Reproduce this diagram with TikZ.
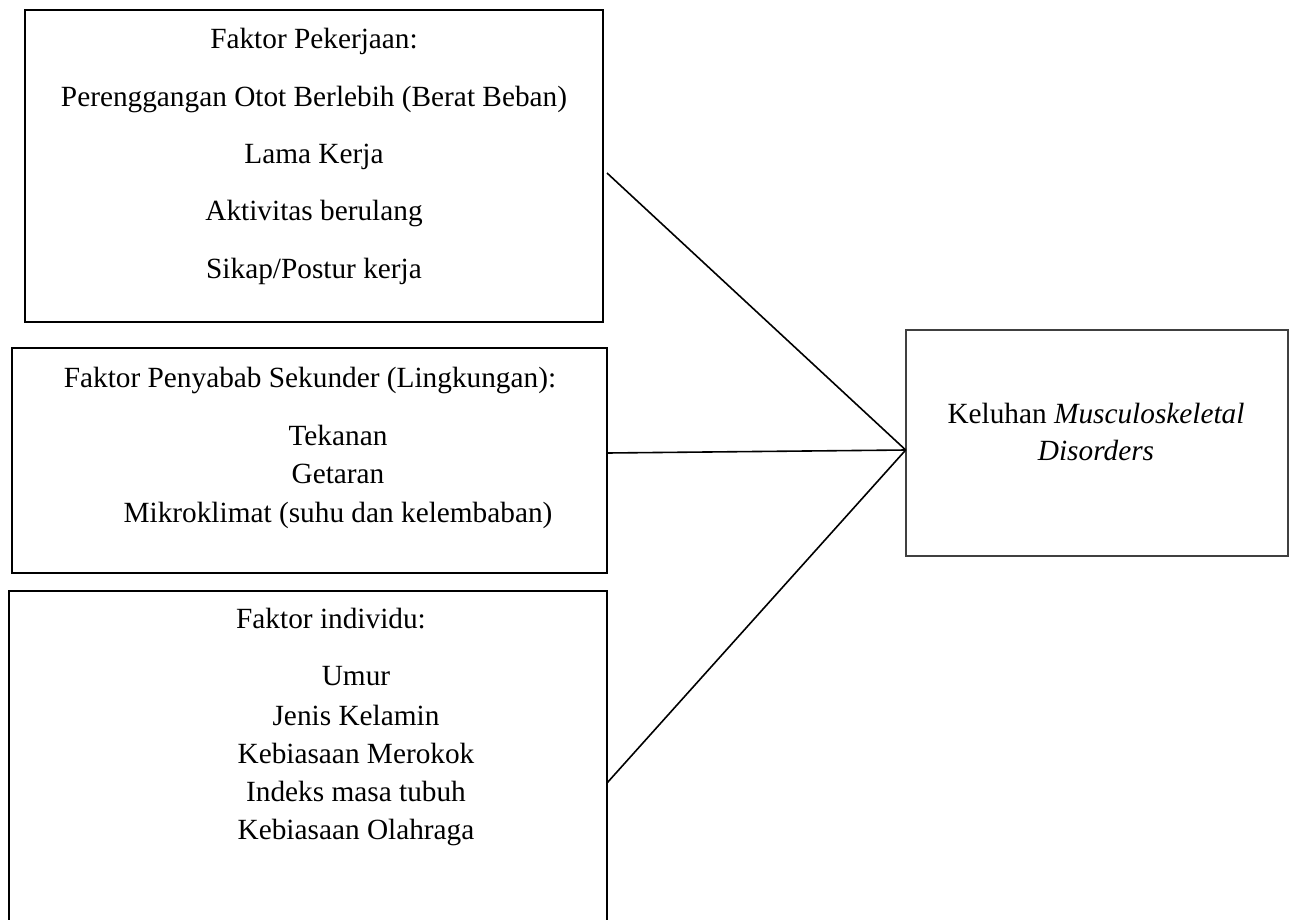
\documentclass[tikz,border=0pt]{standalone}
\usepackage{fontspec}
\setmainfont{Liberation Serif}
\begin{document}
\begin{tikzpicture}[x=1pt,y=-1pt,
  fbox/.style={draw=black,line width=2.2pt,rectangle,inner sep=0pt},
  kbox/.style={draw=black!75,line width=1.1pt,rectangle,inner sep=0pt},
  txt/.style={anchor=base,inner sep=0pt,font=\fontsize{29.3}{35}\selectfont},
  conn/.style={draw=black,line width=1.6pt}]
\clip (0,0) rectangle (1294,919);
\fill[white] (0,0) rectangle (1294,919);
% boxes
\node[fbox,minimum width=578pt,minimum height=312pt] (b1) at (314,166) {};
\node[fbox,minimum width=595pt,minimum height=225pt] (b2) at (309.5,460.5) {};
\node[fbox,minimum width=598pt,minimum height=348pt] (b3) at (308,765) {};
\node[kbox,minimum width=382pt,minimum height=226pt] (k) at (1097,443) {};
% box 1 text
\node[txt] (t11) at (314,48) {Faktor Pekerjaan:};
\node[txt] (t12) at (314,106) {Perenggangan Otot Berlebih (Berat Beban)};
\node[txt] (t13) at (314,163) {Lama Kerja};
\node[txt] (t14) at (314,220) {Aktivitas berulang};
\node[txt] (t15) at (314,278) {Sikap/Postur kerja};
% box 2 text
\node[txt] (t21) at (310,387) {Faktor Penyabab Sekunder (Lingkungan):};
\node[txt] (t22) at (338,445) {Tekanan};
\node[txt] (t23) at (338,483) {Getaran};
\node[txt] (t24) at (338,522) {Mikroklimat (suhu dan kelembaban)};
% box 3 text
\node[txt] (t31) at (331,628) {Faktor individu:};
\node[txt] (t32) at (356,685) {Umur};
\node[txt] (t33) at (356,725) {Jenis Kelamin};
\node[txt] (t34) at (356,763) {Kebiasaan Merokok};
\node[txt] (t35) at (356,801) {Indeks masa tubuh};
\node[txt] (t36) at (356,839) {Kebiasaan Olahraga};
% right box text
\node[txt] (k1) at (1096,423) {Keluhan \textit{Musculoskeletal}};
\node[txt] (k2) at (1096,460) {\textit{Disorders}};
% connector ends
\coordinate (s1) at (607,173);
\coordinate (s2) at (607,453);
\coordinate (s3) at (607,783);
\coordinate (m) at (905.7,450);
\draw[conn] (s1) -- (m);
\draw[conn] (s2) -- (m);
\draw[conn] (s3) -- (m);
\end{tikzpicture}
\end{document}
